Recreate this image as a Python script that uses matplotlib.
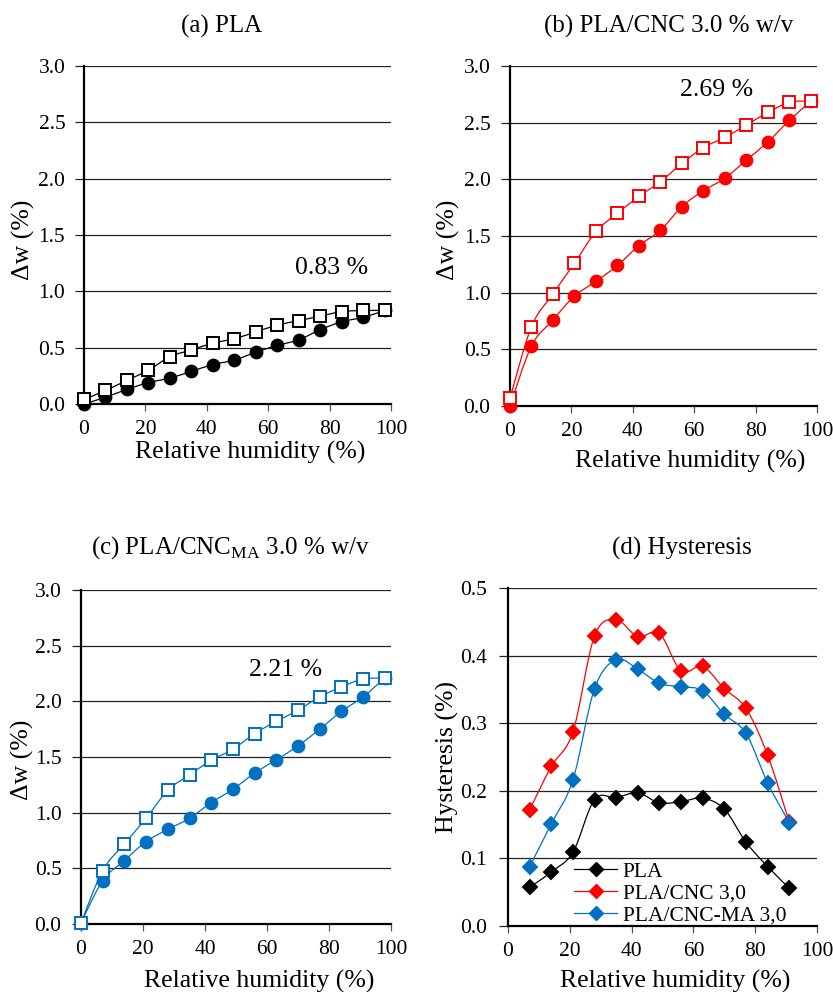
import numpy as np
import matplotlib
matplotlib.use('Agg')
import matplotlib.pyplot as plt
from matplotlib.path import Path
from matplotlib.patches import PathPatch
from matplotlib.lines import Line2D

plt.rcParams['font.family'] = ['Liberation Serif', 'DejaVu Serif']
plt.rcParams['mathtext.fontset'] = 'custom'
plt.rcParams['mathtext.rm'] = 'Liberation Serif'

# ---------------- data ----------------
rh = [0, 7, 14, 21, 28, 35, 42, 49, 56, 63, 70, 77, 84, 91, 98]
pla_ads = [0.00, 0.06, 0.13, 0.19, 0.23, 0.29, 0.35, 0.39, 0.46, 0.52, 0.57, 0.66, 0.73, 0.77, 0.83]
pla_des = [0.04, 0.12, 0.21, 0.30, 0.42, 0.48, 0.54, 0.58, 0.64, 0.70, 0.74, 0.78, 0.82, 0.83, 0.83]
cnc_ads = [0.00, 0.53, 0.76, 0.97, 1.10, 1.24, 1.415, 1.55, 1.76, 1.90, 2.01, 2.17, 2.33, 2.52, 2.69]
cnc_des = [0.07, 0.70, 0.99, 1.26, 1.54, 1.70, 1.85, 1.98, 2.14, 2.28, 2.37, 2.48, 2.59, 2.68, 2.69]
ma_ads = [0.01, 0.39, 0.57, 0.74, 0.85, 0.95, 1.09, 1.21, 1.355, 1.475, 1.60, 1.75, 1.91, 2.04, 2.21]
ma_des = [0.01, 0.48, 0.72, 0.95, 1.20, 1.34, 1.47, 1.57, 1.71, 1.82, 1.92, 2.04, 2.13, 2.20, 2.21]

rh_h = [7, 14, 21, 28, 35, 42, 49, 56, 63, 70, 77, 84, 91]
hys_pla = [0.057, 0.080, 0.109, 0.187, 0.190, 0.197, 0.182, 0.184, 0.189, 0.173, 0.124, 0.088, 0.056]
hys_cnc = [0.172, 0.236, 0.287, 0.429, 0.453, 0.428, 0.433, 0.377, 0.384, 0.351, 0.322, 0.253, 0.154]
hys_ma = [0.088, 0.151, 0.216, 0.351, 0.394, 0.380, 0.359, 0.354, 0.348, 0.313, 0.285, 0.212, 0.153]

titles = ['(a) PLA', '(b) PLA/CNC 3.0 % w/v',
          r'(c) PLA/CNC$_{\mathregular{MA}}$ 3.0 % w/v', '(d) Hysteresis']
final_labels = ['0.83 %', '2.69 %', '2.21 %']
legend_labels = ['PLA', 'PLA/CNC 3,0', 'PLA/CNC-MA 3,0']

RED = '#FF0000'
BLUE = '#0070C0'
BLACK = '#000000'

W, H = 833, 992
fig = plt.figure(figsize=(W / 100, H / 100), dpi=100)


def px_axes(l, r, t, b):
    return fig.add_axes([l / W, 1 - b / H, (r - l) / W, (b - t) / H])


def smooth_path(x, y):
    pts = np.column_stack([x, y]).astype(float)
    n = len(pts)
    verts = [pts[0]]
    codes = [Path.MOVETO]
    for i in range(n - 1):
        p0 = pts[i - 1] if i > 0 else pts[i]
        p1 = pts[i]
        p2 = pts[i + 1]
        p3 = pts[i + 2] if i + 2 < n else pts[i + 1]
        c1 = p1 + (p2 - p0) / 6.0
        c2 = p2 - (p3 - p1) / 6.0
        verts += [c1, c2, p2]
        codes += [Path.CURVE4] * 3
    return Path(verts, codes)


def style_axes(ax, ymax, ystep, ypad):
    ax.set_xlim(0, 100)
    ax.set_ylim(0, ymax)
    ax.set_xticks(np.arange(0, 101, 20))
    ax.set_yticks(np.arange(0, ymax + 1e-9, ystep))
    ax.set_yticklabels([f'{v:.1f}' for v in np.arange(0, ymax + 1e-9, ystep)])
    for s in ['top', 'right']:
        ax.spines[s].set_visible(False)
    for s in ['left', 'bottom']:
        ax.spines[s].set_linewidth(1.6)
        ax.spines[s].set_zorder(4)
    ax.yaxis.grid(True, color='#222222', linewidth=0.9)
    ax.set_axisbelow(True)
    ax.tick_params(axis='y', direction='out', length=6.5, width=0.9,
                   color='#222222', labelsize=15.5, pad=ypad)
    ax.tick_params(axis='x', direction='out', length=5, width=0.9,
                   color='#555555', labelsize=15.5, pad=6.5)


def draw_series(ax, x, y, color, marker, filled, ms):
    ax.add_patch(PathPatch(smooth_path(x, y), facecolor='none', edgecolor=color,
                           linewidth=0.9, zorder=3))
    ax.plot(x, y, ls='none', marker=marker, markersize=ms,
            markerfacecolor=color if filled else 'white',
            markeredgecolor=color, markeredgewidth=1.4, clip_on=False, zorder=5)


boxes = [(84, 391, 66, 404), (510, 817, 66, 406), (81, 391, 590, 924), (508, 817, 588, 926)]
series = [(pla_ads, pla_des, BLACK), (cnc_ads, cnc_des, RED), (ma_ads, ma_des, BLUE)]
ann_pos = [(80.8, 1.21), (67.4, 2.79), (66.1, 2.28)]
ypads = [7.0, 7.5, 7.5, 8.5]

for i in range(3):
    ax = px_axes(*boxes[i])
    style_axes(ax, 3.0, 0.5, ypads[i])
    ads, des, col = series[i]
    draw_series(ax, rh, ads, col, 'o', True, 8.5)
    draw_series(ax, rh, des, col, 's', False, 8.3)
    ax.text(ann_pos[i][0], ann_pos[i][1], final_labels[i], fontsize=18.5,
            ha='center', va='center')

axd = px_axes(*boxes[3])
style_axes(axd, 0.5, 0.1, ypads[3])
for y, col in [(hys_pla, BLACK), (hys_cnc, RED), (hys_ma, BLUE)]:
    draw_series(axd, rh_h, y, col, 'D', True, 7.0)

handles = [Line2D([], [], color=c, lw=0.9, marker='D', markersize=7.0,
                  markerfacecolor=c, markeredgecolor=c)
           for c in [BLACK, RED, BLUE]]
axd.legend(handles, legend_labels, loc='upper left',
           bbox_to_anchor=(0.215, 0.19), frameon=False, fontsize=15.5,
           handlelength=2.0, handletextpad=0.25, labelspacing=0.08,
           borderpad=0.0, borderaxespad=0.0)

# titles and axis labels (pixel positions)
title_pos = [(222, 26), (669, 26), (231, 548), (682, 548)]
for t, (x, y) in zip(titles, title_pos):
    fig.text(x / W, 1 - y / H, t, fontsize=18, ha='center', va='center')

xlab_pos = [(250, 452), (690, 461), (259, 981), (675, 981)]
for (x, y) in xlab_pos:
    fig.text(x / W, 1 - y / H, 'Relative humidity (%)', fontsize=18.5,
             ha='center', va='center')

ylab_pos = [(23, 240, 'Δw (%)'), (448, 240, 'Δw (%)'), (22, 760, 'Δw (%)'),
            (447, 757, 'Hysteresis (%)')]
for x, y, t in ylab_pos:
    fig.text(x / W, 1 - y / H, t, fontsize=18.5, ha='center', va='center',
             rotation=90)

fig.savefig('out.png', dpi=100)
